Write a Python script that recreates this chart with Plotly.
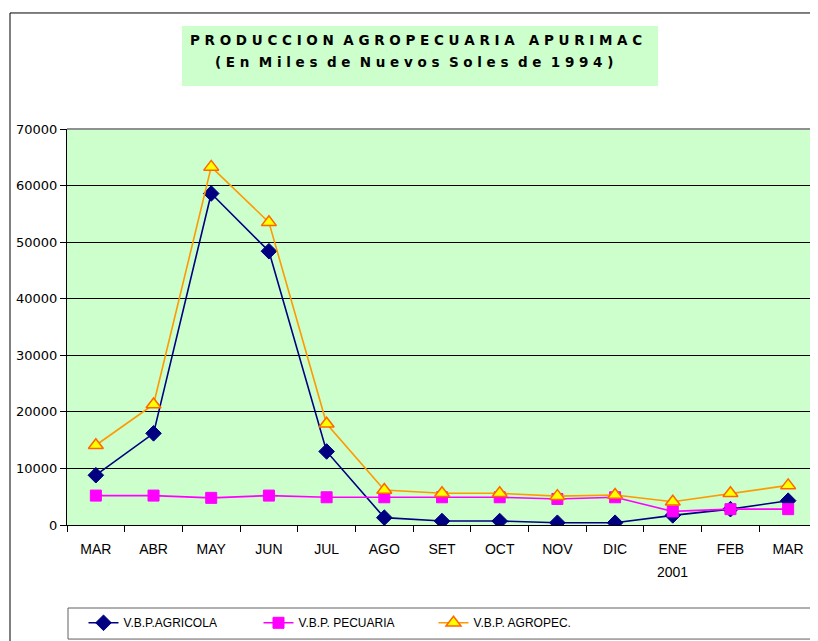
import plotly.graph_objects as go

months = ["MAR", "ABR", "MAY", "JUN", "JUL", "AGO", "SET", "OCT", "NOV", "DIC", "ENE", "FEB", "MAR"]
year_label = "2001"
year_index = 10
agricola = [8800, 16200, 58600, 48400, 13000, 1300, 700, 700, 400, 400, 1700, 2800, 4300]
pecuaria = [5200, 5200, 4800, 5200, 4900, 4900, 4900, 4900, 4600, 4900, 2400, 2800, 2800]
agropec = [14100, 21300, 63300, 53500, 17900, 6200, 5600, 5600, 5100, 5300, 4100, 5600, 7000]
y_ticks = [0, 10000, 20000, 30000, 40000, 50000, 60000, 70000]
y_labels = ["0", "10000", "20000", "30000", "40000", "50000", "60000", "70000"]

xi = list(range(len(months)))
FONT = "Liberation Sans, Arial, sans-serif"
TFONT = "DejaVu Sans, Verdana, sans-serif"

fig = go.Figure()
fig.add_trace(go.Scatter(
    x=xi, y=agricola, name="V.B.P.AGRICOLA", mode="lines+markers",
    line=dict(color="#000080", width=1.6),
    marker=dict(symbol="diamond", size=12, color="#000080", line=dict(color="#000080", width=1)),
))
fig.add_trace(go.Scatter(
    x=xi, y=pecuaria, name="V.B.P. PECUARIA", mode="lines+markers",
    line=dict(color="#FF00FF", width=1.6),
    marker=dict(symbol="square", size=11, color="#FF00FF", line=dict(color="#FF00FF", width=1)),
))
fig.add_trace(go.Scatter(
    x=xi, y=agropec, name="V.B.P. AGROPEC.", mode="lines+markers",
    line=dict(color="#FF9900", width=1.6),
    marker=dict(symbol="triangle-up", size=13, color="#FFFF00", line=dict(color="#FF6600", width=1.5)),
))

fig.update_layout(
    width=810, height=633,
    margin=dict(l=59, r=1, t=121, b=116),
    paper_bgcolor="white",
    plot_bgcolor="#CCFFCC",
    font=dict(family=FONT, size=14, color="black"),
    showlegend=True,
    legend=dict(
        orientation="h", x=0.022, xanchor="left", y=-0.247, yanchor="middle",
        bgcolor="rgba(0,0,0,0)", borderwidth=0,
        font=dict(family=FONT, size=12, color="black"),
        entrywidth=130, entrywidthmode="pixels",
    ),
    xaxis=dict(
        range=[-0.5, 12.5], tickmode="array", tickvals=xi, ticktext=months,
        showgrid=False, zeroline=False, showline=True, linecolor="black", linewidth=1,
        ticks="", ticklen=0, automargin=False, ticklabelstandoff=11,
        minor=dict(tick0=-0.5, dtick=1, ticks="outside", ticklen=6, tickcolor="black", showgrid=False),
        tickfont=dict(family=FONT, size=14, color="black"),
    ),
    yaxis=dict(
        range=[0, 70000], tickmode="array", tickvals=y_ticks, ticktext=y_labels,
        showgrid=True, gridcolor="black", gridwidth=1, zeroline=False,
        showline=True, linecolor="black", linewidth=1, automargin=False,
        ticks="outside", ticklen=6, tickcolor="black",
        tickfont=dict(family=TFONT, size=13, color="black"),
    ),
    shapes=[
        dict(type="rect", xref="paper", yref="paper", x0=-0.076, x1=1.05, y0=-0.35, y1=1.293,
             line=dict(color="black", width=1), fillcolor="rgba(0,0,0,0)", layer="above"),
        dict(type="line", xref="paper", yref="paper", x0=0, x1=1, y0=1, y1=1,
             line=dict(color="#909090", width=2), layer="above"),
        dict(type="line", xref="paper", yref="paper", x0=1, x1=1, y0=0, y1=1,
             line=dict(color="#909090", width=2), layer="above"),
        dict(type="rect", xref="paper", yref="paper", x0=115 / 750, x1=591 / 750, y0=1.1086, y1=1.260,
             line=dict(width=0), fillcolor="#CCFFCC", layer="above"),
        dict(type="rect", xref="paper", yref="paper", x0=1 / 750, x1=749 / 750, y0=-0.288, y1=-0.2096,
             line=dict(color="#606060", width=1), fillcolor="rgba(0,0,0,0)", layer="above"),
    ],
    annotations=[
        dict(text="<b>P R O D U C C I O N  A G R O P E C U A R I A   A P U R I M A C</b>",
             xref="paper", yref="paper", x=349 / 750, y=(525 - 40) / 396, xanchor="center", yanchor="middle",
             showarrow=False, font=dict(family=TFONT, size=13.5, color="black")),
        dict(text="<b>( E n  M i l e s  d e  N u e v o s  S o l e s  d e  1 9 9 4 )</b>",
             xref="paper", yref="paper", x=347 / 750, y=(525 - 62) / 396, xanchor="center", yanchor="middle",
             showarrow=False, font=dict(family=TFONT, size=13.5, color="black")),
        dict(text=year_label, xref="x", yref="paper", x=year_index, y=(525 - 572) / 396,
             xanchor="center", yanchor="middle", showarrow=False,
             font=dict(family=FONT, size=14, color="black")),
    ],
)

fig.write_html("out.html")
